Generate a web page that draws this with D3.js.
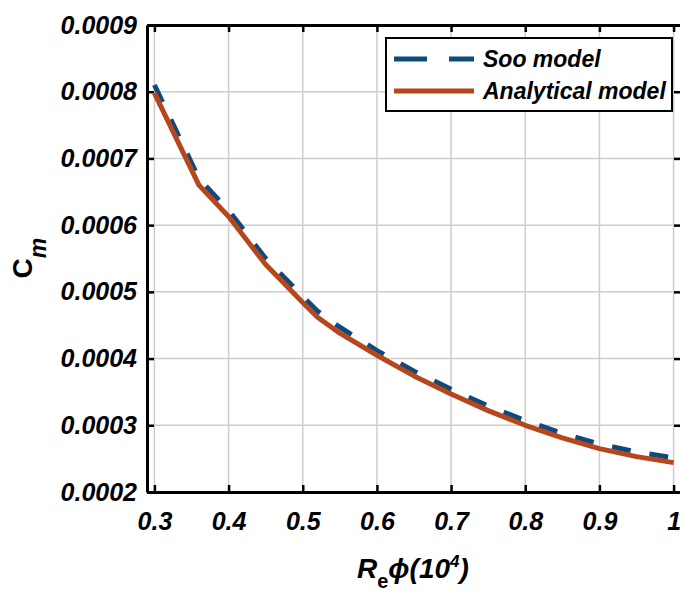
<!DOCTYPE html>
<html>
<head>
<meta charset="utf-8">
<script src="https://cdn.jsdelivr.net/npm/d3@7"></script>
<style>
  body { margin: 0; background: #fff; }
  svg { display: block; font-family: "Liberation Sans", Arial, sans-serif; }
  .tick text { font-weight: bold; font-style: italic; fill: #000; }
</style>
</head>
<body>
<div id="chart"></div>
<script>
////////////////////////////////////////////////////////////
//////////////////////// Data //////////////////////////////
////////////////////////////////////////////////////////////

//Re*phi (10^4) sample points
var rePhi = [0.3, 0.36, 0.4, 0.45, 0.5, 0.52, 0.55, 0.6, 0.65, 0.7, 0.75, 0.8, 0.85, 0.9, 0.95, 1.0];

//Cm values
var sooModel = [0.000810, 0.000670, 0.000622, 0.000550, 0.000493, 0.000471, 0.000447, 0.000412, 0.000381,
	0.000354, 0.000329, 0.000307, 0.000288, 0.000272, 0.000260, 0.000251];
var analyticalModel = [0.000798, 0.000660, 0.000613, 0.000541, 0.000484, 0.000462, 0.000438, 0.000405, 0.000374,
	0.000347, 0.000322, 0.000300, 0.000281, 0.000265, 0.000253, 0.000244];

var xTicks = [0.3, 0.4, 0.5, 0.6, 0.7, 0.8, 0.9, 1.0];
var yTicks = [0.0002, 0.0003, 0.0004, 0.0005, 0.0006, 0.0007, 0.0008, 0.0009];

var seriesNames = ["Soo model", "Analytical model"];

////////////////////////////////////////////////////////////
//////////////////////// Set-up ////////////////////////////
////////////////////////////////////////////////////////////

var width = 680,
	height = 592,
	plot = {left: 147, right: 681, top: 25, bottom: 492};

var blue = "#0f4a7c",
	orange = "#b6471c";

var x = d3.scaleLinear()
	.domain([0.29, 1.01])
	.range([plot.left, plot.right]);

var y = d3.scaleLinear()
	.domain([0.0002, 0.0009])
	.range([plot.bottom, plot.top]);

var svg = d3.select("#chart").append("svg")
	.attr("width", width)
	.attr("height", height);

svg.append("rect").attr("width", width).attr("height", height).attr("fill", "#fff");

////////////////////////////////////////////////////////////
//////////////////////// Grid //////////////////////////////
////////////////////////////////////////////////////////////

var grid = svg.append("g").attr("class", "grid")
	.attr("stroke", "#cdcdcd")
	.attr("stroke-width", 1.5);

grid.selectAll(".vgrid")
	.data(xTicks)
	.enter().append("line")
	.attr("x1", function(d) { return x(d); })
	.attr("x2", function(d) { return x(d); })
	.attr("y1", plot.top)
	.attr("y2", plot.bottom);

grid.selectAll(".hgrid")
	.data(yTicks)
	.enter().append("line")
	.attr("x1", plot.left)
	.attr("x2", plot.right)
	.attr("y1", function(d) { return y(d); })
	.attr("y2", function(d) { return y(d); });

////////////////////////////////////////////////////////////
//////////////////////// Lines /////////////////////////////
////////////////////////////////////////////////////////////

var line = d3.line()
	.x(function(d) { return x(d[0]); })
	.y(function(d) { return y(d[1]); });

svg.append("path")
	.datum(d3.zip(rePhi, sooModel))
	.attr("fill", "none")
	.attr("stroke", blue)
	.attr("stroke-width", 5)
	.attr("stroke-dasharray", "19,19")
	.attr("d", line);

svg.append("path")
	.datum(d3.zip(rePhi, analyticalModel))
	.attr("fill", "none")
	.attr("stroke", orange)
	.attr("stroke-width", 5)
	.attr("stroke-linejoin", "round")
	.attr("d", line);

////////////////////////////////////////////////////////////
//////////////////////// Axes //////////////////////////////
////////////////////////////////////////////////////////////

var xFormat = function(d) { return String(+d.toFixed(1)); };

var xAxis = svg.append("g")
	.attr("transform", "translate(0," + plot.bottom + ")")
	.call(d3.axisBottom(x).tickValues(xTicks).tickFormat(xFormat).tickSizeInner(-7).tickSizeOuter(0).tickPadding(20));
xAxis.selectAll(".tick text").style("font-size", "25px");

var yAxis = svg.append("g")
	.attr("transform", "translate(" + plot.left + ",0)")
	.call(d3.axisLeft(y).tickValues(yTicks).tickFormat(d3.format(".4f")).tickSizeInner(-7).tickSizeOuter(0).tickPadding(10));
yAxis.selectAll(".tick text").style("font-size", "25px");

svg.append("g")
	.attr("transform", "translate(0," + plot.top + ")")
	.call(d3.axisTop(x).tickValues(xTicks).tickFormat("").tickSizeInner(-7).tickSizeOuter(0));

svg.append("g")
	.attr("transform", "translate(" + plot.right + ",0)")
	.call(d3.axisRight(y).tickValues(yTicks).tickFormat("").tickSizeInner(-7).tickSizeOuter(0));

svg.selectAll(".domain").attr("stroke", "#000").attr("stroke-width", 3);
svg.selectAll(".tick line").attr("stroke", "#000").attr("stroke-width", 2.5);

//Axis titles
var yTitle = svg.append("text")
	.attr("transform", "translate(32," + ((plot.top + plot.bottom) / 2 + 20) + ") rotate(-90)")
	.style("font-weight", "bold")
	.style("font-size", "28px");
yTitle.append("tspan").text("C");
yTitle.append("tspan").attr("dy", 14).style("font-style", "italic").style("font-size", "23px").text("m");

var xTitle = svg.append("text")
	.attr("x", 357)
	.attr("y", 578)
	.style("font-weight", "bold")
	.style("font-style", "italic")
	.style("font-size", "28px");
xTitle.append("tspan").text("R");
xTitle.append("tspan").attr("dy", 10).style("font-size", "20px").style("font-style", "normal").text("e");
xTitle.append("tspan").attr("dy", -10).text("ϕ(10");
xTitle.append("tspan").attr("dy", -11).style("font-size", "17px").text("4");
xTitle.append("tspan").attr("dy", 11).text(")");

////////////////////////////////////////////////////////////
//////////////////////// Legend ////////////////////////////
////////////////////////////////////////////////////////////

var legend = svg.append("g").attr("class", "legend");

legend.append("rect")
	.attr("x", 386)
	.attr("y", 38)
	.attr("width", 286)
	.attr("height", 73)
	.attr("fill", "#fff")
	.attr("stroke", "#000")
	.attr("stroke-width", 2);

var legendRows = legend.selectAll(".row")
	.data(seriesNames)
	.enter().append("g")
	.attr("transform", function(d, i) { return "translate(0," + (59 + i * 32) + ")"; });

legendRows.append("line")
	.attr("x1", 394)
	.attr("x2", 474)
	.attr("stroke", function(d, i) { return i === 0 ? blue : orange; })
	.attr("stroke-width", 5)
	.attr("stroke-dasharray", function(d, i) { return i === 0 ? "33,22" : null; });

legendRows.append("text")
	.attr("x", 483)
	.attr("dy", "0.36em")
	.style("font-weight", "bold")
	.style("font-style", "italic")
	.style("font-size", "23px")
	.text(function(d) { return d; });
</script>
</body>
</html>
